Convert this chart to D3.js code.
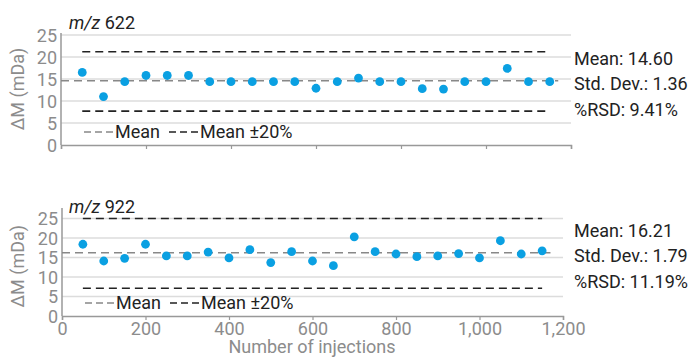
<!DOCTYPE html>
<html>
<head>
<meta charset="utf-8">
<script src="https://cdn.jsdelivr.net/npm/d3@7"></script>
<style>
  body { margin: 0; background: #fff; }
  text { font-family: Roboto, sans-serif; }
</style>
</head>
<body>
<svg id="chart" width="694" height="358"></svg>
<script>
const injections = [50, 100, 150, 200, 250, 300, 350, 400, 450, 500, 550, 600,
  650, 700, 750, 800, 850, 900, 950, 1000, 1050, 1100, 1150];
const values622 = [16.5, 11.0, 14.4, 15.8, 15.8, 15.8, 14.4, 14.4, 14.4, 14.4, 14.4, 12.9,
  14.4, 15.2, 14.4, 14.4, 12.8, 12.7, 14.4, 14.4, 17.4, 14.4, 14.4];
const values922 = [18.4, 14.1, 14.8, 18.4, 15.4, 15.4, 16.4, 14.9, 17.0, 13.7, 16.5, 14.1,
  12.9, 20.3, 16.5, 15.9, 15.2, 15.4, 16.0, 14.9, 19.3, 15.9, 16.7];
const limits622 = [7.7, 21.2];
const limits922 = [7.1, 25.0];
const stats622 = ['Mean: 14.60', 'Std. Dev.: 1.36', '%RSD: 9.41%'];
const stats922 = ['Mean: 16.21', 'Std. Dev.: 1.79', '%RSD: 11.19%'];
const yTicks = [0, 5, 10, 15, 20, 25];
const xTicks = [0, 200, 400, 600, 800, 1000, 1200];

const gray = '#8c8c8c';
const dark = '#222';
const dotColor = '#0aa0e2';

const svg = d3.select('#chart');

const panels = [
  { title: '622', values: values622, mean: 14.6, limits: limits622, stats: stats622,
    x0: 61, x1: 571, y0: 145, y25: 35, yTop: 33, xLabels: false },
  { title: '922', values: values922, mean: 16.21, limits: limits922, stats: stats922,
    x0: 62, x1: 563, y0: 316, y25: 218.5, yTop: 208, xLabels: true }
];

panels.forEach(p => {
  const xScale = d3.scaleLinear().domain([0, 1200]).range([p.x0, p.x1]);
  const yScale = d3.scaleLinear().domain([0, 25]).range([p.y0, p.y25]);
  const g = svg.append('g');

  // grid
  g.selectAll('.grid').data(yTicks.filter(d => d > 0))
    .enter().append('line')
      .attr('x1', p.x0).attr('x2', p.x1)
      .attr('y1', d => yScale(d)).attr('y2', d => yScale(d))
      .attr('stroke', '#dcdcdc').attr('stroke-width', 1.5);

  // y axis
  const yAxisG = g.append('g')
    .attr('transform', `translate(${p.x0},0)`)
    .call(d3.axisLeft(yScale).tickValues(yTicks).tickSize(0).tickPadding(4));
  yAxisG.select('.domain').remove();
  yAxisG.selectAll('text')
    .attr('fill', gray).style('font-size', '18px').attr('dy', '0.36em');
  g.append('line')
    .attr('x1', p.x0).attr('x2', p.x0)
    .attr('y1', p.yTop).attr('y2', p.y0)
    .attr('stroke', '#999').attr('stroke-width', 1.5);

  // x axis
  const xAxisG = g.append('g')
    .attr('transform', `translate(0,${p.y0})`)
    .call(d3.axisBottom(xScale).tickValues(xTicks).tickSize(4).tickPadding(2)
      .tickFormat(p.xLabels ? d3.format(',') : ''));
  xAxisG.select('.domain').attr('stroke', '#999').attr('stroke-width', 1.5);
  xAxisG.selectAll('.tick line').attr('stroke', '#999').attr('stroke-width', 1.2);
  xAxisG.selectAll('text').attr('fill', gray).style('font-size', '18px');

  // limit lines
  g.selectAll('.limit').data(p.limits)
    .enter().append('line')
      .attr('x1', xScale(50)).attr('x2', xScale(1150))
      .attr('y1', d => yScale(d)).attr('y2', d => yScale(d))
      .attr('stroke', dark).attr('stroke-width', 1.6)
      .attr('stroke-dasharray', '8,5');

  // mean line
  g.append('line')
    .attr('x1', xScale(0)).attr('x2', xScale(1170))
    .attr('y1', yScale(p.mean)).attr('y2', yScale(p.mean))
    .attr('stroke', '#888').attr('stroke-width', 1.4)
    .attr('stroke-dasharray', '8,5');

  // points
  g.selectAll('circle').data(p.values)
    .enter().append('circle')
      .attr('cx', (d, i) => xScale(injections[i]))
      .attr('cy', d => yScale(d))
      .attr('r', 4.4)
      .attr('fill', dotColor);

  // title
  const title = g.append('text')
    .attr('x', 69).attr('y', p.y25 - 6)
    .attr('fill', dark).style('font-size', '18px');
  title.append('tspan').style('font-style', 'italic').text('m/z');
  title.append('tspan').text(' ' + p.title);

  // y label
  g.append('text')
    .attr('transform', `translate(24,${(p.y0 + p.y25) / 2 - 1}) rotate(-90)`)
    .attr('text-anchor', 'middle')
    .attr('fill', gray).style('font-size', '18px')
    .text('ΔM (mDa)');

  // legend
  const legY = p.y0 - 13;
  const legG = g.append('g').attr('transform', `translate(${p.x0 + 23},${legY})`);
  legG.append('line').attr('x1', 0).attr('x2', 29).attr('y1', 0).attr('y2', 0)
    .attr('stroke', '#888').attr('stroke-width', 1.4).attr('stroke-dasharray', '7,4');
  legG.append('text').attr('x', 31).attr('y', 6)
    .attr('fill', dark).style('font-size', '18px').text('Mean');
  legG.append('line').attr('x1', 85).attr('x2', 114).attr('y1', 0).attr('y2', 0)
    .attr('stroke', dark).attr('stroke-width', 1.6).attr('stroke-dasharray', '7,4');
  legG.append('text').attr('x', 116).attr('y', 6)
    .attr('fill', dark).style('font-size', '18px').text('Mean ±20%');

  // stats
  g.selectAll('.stat').data(p.stats)
    .enter().append('text')
      .attr('x', 574)
      .attr('y', (d, i) => yScale(p.mean) - 16 + i * 25.5)
      .attr('fill', dark).style('font-size', '18px')
      .text(d => d);
});

svg.append('text')
  .attr('x', 312).attr('y', 353)
  .attr('text-anchor', 'middle')
  .attr('fill', gray).style('font-size', '18px')
  .text('Number of injections');
</script>
</body>
</html>
